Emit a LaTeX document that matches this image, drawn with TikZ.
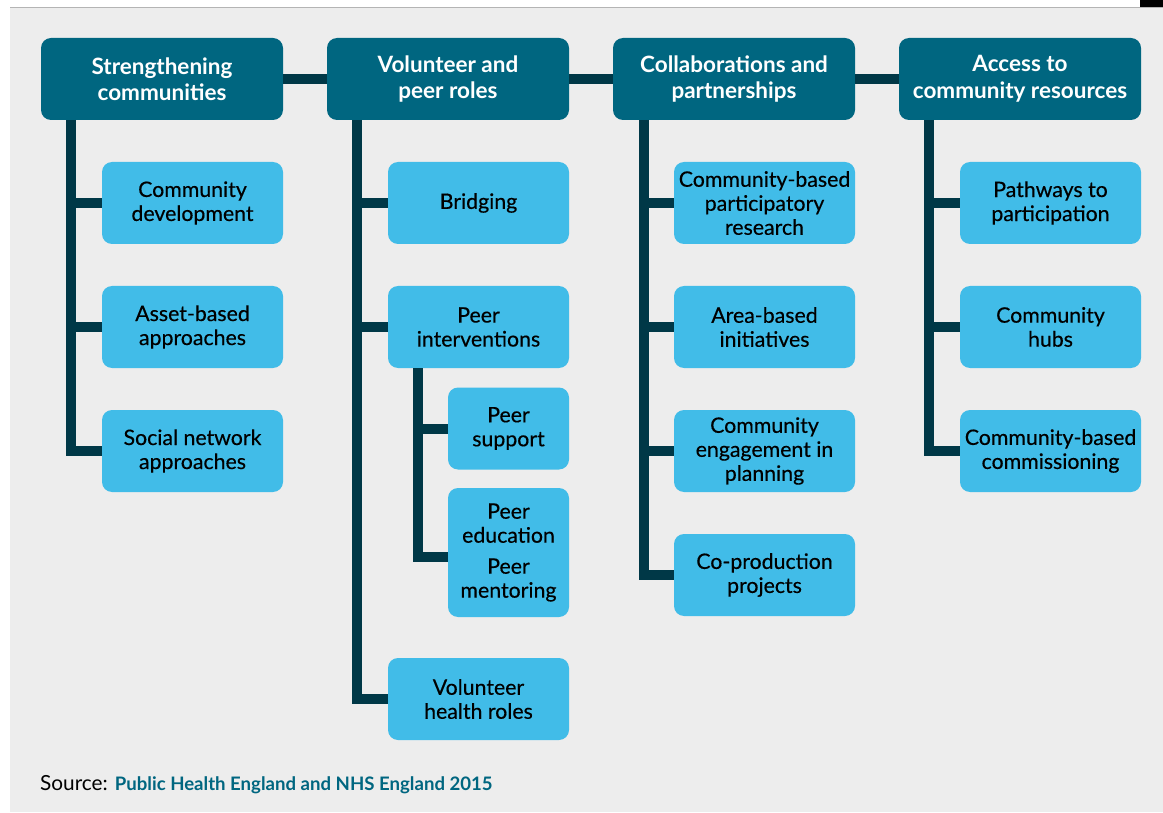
\documentclass[tikz,border=0pt]{standalone}
\usepackage{fontspec}
\setmainfont{Lato}
\newfontfamily\medfont[FakeBold=0.35]{Lato}
\definecolor{hdrc}{RGB}{0,102,128}
\definecolor{kidc}{RGB}{65,188,232}
\definecolor{linec}{RGB}{0,56,71}
\definecolor{panelc}{RGB}{237,237,237}
\definecolor{edgec}{RGB}{180,180,180}
\tikzset{
  hdr/.style={fill=hdrc, rounded corners=10pt, minimum width=242pt, minimum height=82pt,
    text=white, align=center, inner sep=0pt, font=\bfseries\fontsize{22.5}{26.5}\selectfont},
  kid/.style={fill=kidc, rounded corners=10pt, minimum width=181pt, minimum height=82pt,
    text=black, align=center, inner sep=0pt, font=\medfont\fontsize{21.3}{24}\selectfont},
  subkid/.style={kid, minimum width=121pt},
  conn/.style={draw=linec, line width=10pt},
}
\begin{document}
\begin{tikzpicture}[x=1pt,y=-1pt]
\useasboundingbox (0,0) rectangle (1163,813);
\fill[white] (0,0) rectangle (1163,813);
\fill[panelc] (10,8) rectangle (1163,812);
\draw[edgec, line width=1.2pt] (10,7.5) -- (1163,7.5);
\fill[black] (1140,0) rectangle (1163,7);

% headers
\node[hdr] (h1) at (162,79) {Strengthening\\communities};
\node[hdr] (h2) at (448,79) {Volunteer and\\peer roles};
\node[hdr] (h3) at (734,79) {Collaborations and\\partnerships};
\node[hdr] (h4) at (1020,79) {Access to\\community resources};

% trunk coordinates
\coordinate (t1) at (71,120);
\coordinate (t2) at (357,120);
\coordinate (t3) at (644,120);
\coordinate (t4) at (929,120);
\coordinate (s2) at (418,368);

% column 1
\node[kid] (c11) at (192.5,203) {Community\\development};
\node[kid] (c12) at (192.5,327) {Asset-based\\approaches};
\node[kid] (c13) at (192.5,451) {Social network\\approaches};

% column 2
\node[kid] (c21) at (478.5,203) {Bridging};
\node[kid] (c22) at (478.5,327) {Peer\\interventions};
\node[subkid] (c221) at (508.5,428.5) {Peer\\support};
\node[subkid, minimum height=129pt] (c222) at (508.5,552.5) {Peer\\education\\[7pt]Peer\\mentoring};
\node[kid] (c23) at (478.5,699) {Volunteer\\health roles};

% column 3
\node[kid] (c31) at (764.5,203) {Community-based\\participatory\\research};
\node[kid] (c32) at (764.5,327) {Area-based\\initiatives};
\node[kid] (c33) at (764.5,451) {Community\\engagement in\\planning};
\node[kid] (c34) at (764.5,575) {Co-production\\projects};

% column 4
\node[kid] (c41) at (1050.5,203) {Pathways to\\participation};
\node[kid] (c42) at (1050.5,327) {Community\\hubs};
\node[kid] (c43) at (1050.5,451) {Community-based\\commissioning};

% header connectors
\draw[conn] (h1.east) -- (h2.west);
\draw[conn] (h2.east) -- (h3.west);
\draw[conn] (h3.east) -- (h4.west);

% column 1 connectors
\draw[conn] (t1) |- (c13.west);
\draw[conn] (t1 |- c11.west) -- (c11.west);
\draw[conn] (t1 |- c12.west) -- (c12.west);

% column 2 connectors
\draw[conn] (t2) |- (c23.west);
\draw[conn] (t2 |- c21.west) -- (c21.west);
\draw[conn] (t2 |- c22.west) -- (c22.west);
\coordinate (e222) at (c222.west |- 0,557);
\draw[conn] (s2) |- (e222);
\draw[conn] (s2 |- c221.west) -- (c221.west);

% column 3 connectors
\draw[conn] (t3) |- (c34.west);
\draw[conn] (t3 |- c31.west) -- (c31.west);
\draw[conn] (t3 |- c32.west) -- (c32.west);
\draw[conn] (t3 |- c33.west) -- (c33.west);

% column 4 connectors
\draw[conn] (t4) |- (c43.west);
\draw[conn] (t4 |- c41.west) -- (c41.west);
\draw[conn] (t4 |- c42.west) -- (c42.west);

% source
\node[anchor=base west, inner sep=0pt] (src) at (40,790)
  {\fontsize{20.8}{24}\selectfont Source:\hspace{7pt}\textcolor{hdrc}{\bfseries\fontsize{18.6}{22}\selectfont Public Health England and NHS England 2015}};
\end{tikzpicture}
\end{document}
